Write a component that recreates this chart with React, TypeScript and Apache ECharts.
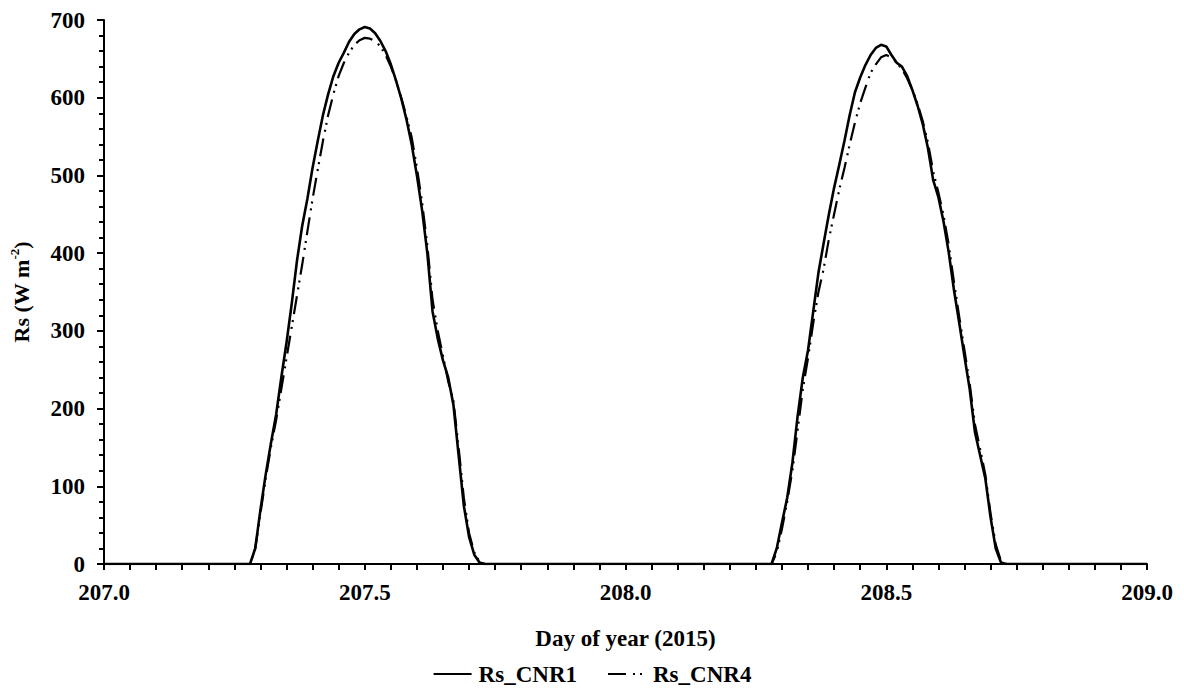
import React, { useEffect, useRef } from "react";
import * as echarts from "echarts";

const day207Times = [
  207.28, 207.29, 207.3, 207.31, 207.32, 207.33, 207.34, 207.35, 207.36, 207.37,
  207.38, 207.39, 207.4, 207.41, 207.42, 207.43, 207.44, 207.45, 207.46, 207.47,
  207.48, 207.49, 207.5, 207.51, 207.52, 207.53, 207.54, 207.55, 207.56, 207.57,
  207.58, 207.59, 207.6, 207.61, 207.62, 207.63, 207.64, 207.65, 207.66, 207.67,
  207.68, 207.69, 207.7, 207.71, 207.72, 207.73,
];
const day208Times = [
  208.28, 208.29, 208.3, 208.31, 208.32, 208.33, 208.34, 208.35, 208.36, 208.37,
  208.38, 208.39, 208.4, 208.41, 208.42, 208.43, 208.44, 208.45, 208.46, 208.47,
  208.48, 208.49, 208.5, 208.51, 208.52, 208.53, 208.54, 208.55, 208.56, 208.57,
  208.58, 208.59, 208.6, 208.61, 208.62, 208.63, 208.64, 208.65, 208.66, 208.67,
  208.68, 208.69, 208.7, 208.71, 208.72, 208.73,
];

const cnr1Day207 = [
  0, 20, 70, 115, 155, 192, 240, 285, 335, 390,
  435, 470, 510, 545, 578, 605, 628, 645, 658, 672,
  682, 688, 691, 689, 683, 673, 660, 643, 622, 599,
  572, 540, 500, 455, 400, 325, 290, 262, 240, 205,
  140, 75, 35, 12, 2, 0,
];
const cnr4Day207 = [
  0, 20, 65, 110, 150, 185, 225, 265, 305, 345,
  385, 428, 470, 508, 545, 578, 605, 628, 645, 658,
  668, 674, 677, 676, 673, 666, 655, 640, 622, 600,
  576, 549, 510, 465, 410, 340, 300, 268, 235, 210,
  150, 85, 40, 15, 3, 0,
];
const cnr1Day208 = [
  0, 20, 53, 85, 130, 190, 240, 275, 325, 375,
  413, 450, 484, 514, 545, 578, 607, 626, 642, 655,
  664, 668, 666, 655, 645, 640, 628, 610, 590, 566,
  535, 494, 472, 440, 400, 352, 310, 267, 225, 170,
  140, 110, 60, 20, 2, 0,
];
const cnr4Day208 = [
  0, 15, 45, 80, 120, 172, 225, 265, 310, 350,
  380, 418, 450, 482, 510, 540, 568, 593, 613, 632,
  643, 652, 655, 652, 645, 637, 625, 610, 592, 570,
  542, 505, 478, 448, 410, 362, 318, 275, 232, 180,
  148, 115, 65, 25, 4, 0,
];

const xStart = 207.0;
const xEnd = 209.0;
const seriesNames = ["Rs_CNR1", "Rs_CNR4"];

function buildSeries(d207: number[], d208: number[]) {
  const pts: number[][] = [[xStart, 0]];
  day207Times.forEach((t, i) => pts.push([t, d207[i]]));
  day208Times.forEach((t, i) => pts.push([t, d208[i]]));
  pts.push([xEnd, 0]);
  return pts;
}

const FONT = "'Liberation Serif', 'Times New Roman', serif";

export default function App() {
  const ref = useRef<HTMLDivElement>(null);
  useEffect(() => {
    if (!ref.current) return;
    const chart = echarts.init(ref.current, undefined, { renderer: "svg" });
    const textBase = { fontFamily: FONT, fontWeight: "bold" as const, color: "#000", fontSize: 23 };
    chart.setOption({
      animation: false,
      backgroundColor: "#fff",
      grid: { left: 98, right: 37, top: 20, bottom: 129, containLabel: false },
      legend: {
        top: 662,
        left: "center",
        itemWidth: 38,
        itemHeight: 14,
        itemGap: 30,
        padding: 0,
        itemStyle: { opacity: 0 },
        textStyle: { ...textBase, lineHeight: 24, padding: [0, 0, 0, 2] },
        data: seriesNames,
      },
      xAxis: {
        type: "value",
        min: xStart,
        max: xEnd,
        interval: 0.5,
        name: "Day of year (2015)",
        nameLocation: "middle",
        nameGap: 63,
        nameTextStyle: { ...textBase },
        axisLine: { lineStyle: { color: "#000", width: 2 } },
        axisTick: { show: true, length: 6, lineStyle: { color: "#000", width: 2 } },
        minorTick: { show: true, splitNumber: 10, length: 6, lineStyle: { color: "#000", width: 2 } },
        axisLabel: { ...textBase, margin: 17, formatter: (v: number) => v.toFixed(1) },
        splitLine: { show: false },
      },
      yAxis: {
        type: "value",
        min: 0,
        max: 700,
        interval: 100,
        name: "{a|Rs (W m}{b|-2}{a|)}",
        nameLocation: "middle",
        nameGap: 70,
        nameRotate: 90,
        nameTextStyle: {
          rich: {
            a: { ...textBase, fontSize: 22, lineHeight: 26 },
            b: { ...textBase, fontSize: 13, lineHeight: 26, verticalAlign: "top" },
          },
        },
        axisLine: { show: true, lineStyle: { color: "#000", width: 2 } },
        axisTick: { show: true, length: 7, lineStyle: { color: "#000", width: 2 } },
        minorTick: { show: true, splitNumber: 5, length: 5, lineStyle: { color: "#000", width: 2 } },
        axisLabel: { ...textBase, margin: 19 },
        splitLine: { show: false },
      },
      series: [
        {
          name: seriesNames[0],
          type: "line",
          data: buildSeries(cnr1Day207, cnr1Day208),
          showSymbol: false,
          symbol: "none",
          lineStyle: { color: "#000", width: 2.6 },
          itemStyle: { color: "#000" },
          z: 3,
        },
        {
          name: seriesNames[1],
          type: "line",
          data: buildSeries(cnr4Day207, cnr4Day208),
          showSymbol: false,
          symbol: "none",
          lineStyle: { color: "#000", width: 2.2, type: [18, 7, 2, 5, 2, 6] },
          itemStyle: { color: "#000" },
          z: 2,
        },
      ],
    });
    return () => chart.dispose();
  }, []);
  return <div ref={ref} style={{ width: 1184, height: 693, margin: -8 }} />;
}
